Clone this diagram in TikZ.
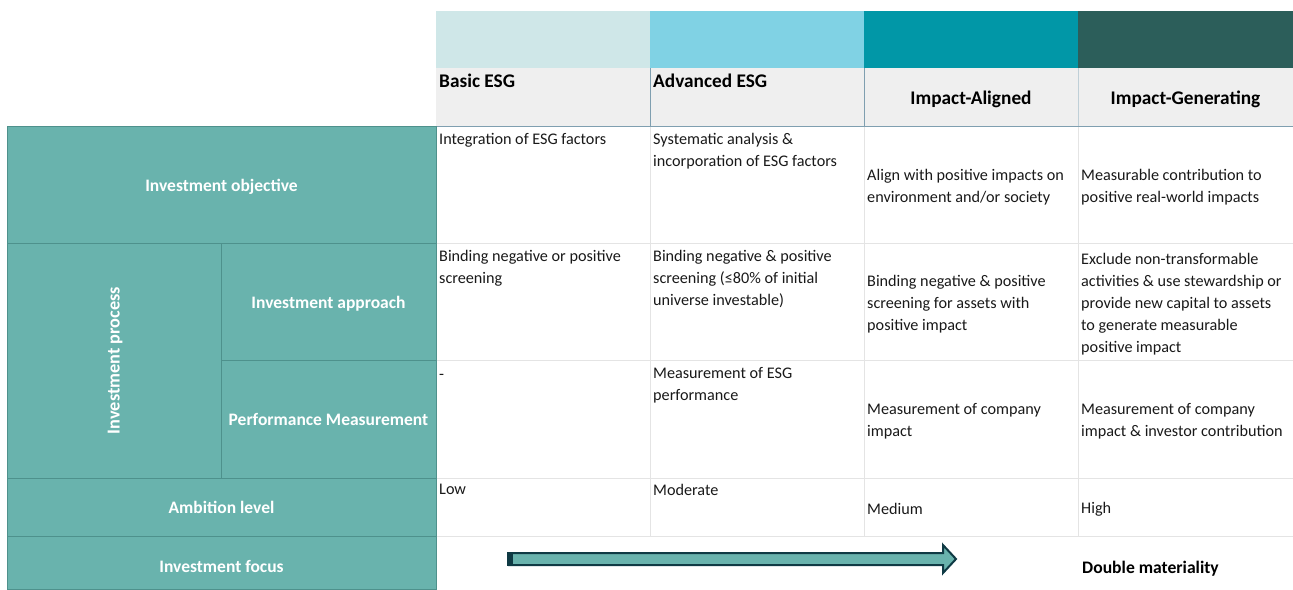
\documentclass[tikz,border=0pt]{standalone}
\usepackage{fontspec}
\setmainfont{Carlito}
\definecolor{bandA}{HTML}{CFE7E8}
\definecolor{bandB}{HTML}{80D2E4}
\definecolor{bandC}{HTML}{0197A7}
\definecolor{bandD}{HTML}{2C5E5A}
\definecolor{headgray}{HTML}{EFEFEF}
\definecolor{headline}{HTML}{7F9FB0}
\definecolor{tealcell}{HTML}{69B3AD}
\definecolor{tealline}{HTML}{4E918C}
\definecolor{gridline}{HTML}{E4E4E4}
\definecolor{arrowline}{HTML}{0F3A44}
\begin{document}
\begin{tikzpicture}[x=1pt,y=-1pt,
    lab/.style={draw=tealline,fill=tealcell,line width=1pt,text=white,inner sep=0pt,outer sep=0pt,
        text height=13pt,text depth=0pt,font=\fontsize{17.5}{20}\selectfont\bfseries},
    txt/.style={align=left,inner sep=0pt,text=black!90,font=\fontsize{16.2}{22}\selectfont},
    hdr/.style={align=left,inner sep=0pt,text=black,font=\fontsize{19.3}{22}\selectfont\bfseries}]
    \useasboundingbox (0,0) rectangle (1293,589);
    % colour band and header
    \fill[bandA] (436,11) rectangle (650,68);
    \fill[bandB] (650,11) rectangle (864,68);
    \fill[bandC] (864,11) rectangle (1078,68);
    \fill[bandD] (1078,11) rectangle (1293,68);
    \fill[headgray] (436,68) rectangle (1293,126);
    \draw[gridline] (436,243) -- (1293,243) (436,360) -- (1293,360) (436,478) -- (1293,478) (436,536) -- (1293,536);
    \draw[gridline] (650,126) -- (650,536) (864,126) -- (864,536) (1078,126) -- (1078,536);
    \draw[headline] (650,68) -- (650,126) (864,68) -- (864,126);
    \draw[headline!50] (1078,68) -- (1078,126);
    \draw[headline] (436,126) -- (1293,126);
    \node[hdr,anchor=north west] (basic) at (439,74) {Basic ESG};
    \node[hdr,anchor=north west] (advanced) at (653,74) {Advanced ESG};
    \node[hdr] (aligned) at (971,99) {Impact-Aligned};
    \node[hdr] (generating) at (1185.5,99) {Impact-Generating};
    % left labels
    \node[lab,minimum width=429pt,minimum height=117pt] (objective) at (221.5,184.5) {Investment objective};
    \node[lab,minimum width=235pt,minimum height=214pt,rotate=90,text depth=2pt,font=\fontsize{18.3}{20}\selectfont\bfseries] (process) at (114,360.5) {Investment process};
    \node[lab,minimum width=215pt,minimum height=117pt] (approach) at (328.5,301.5) {Investment approach};
    \node[lab,minimum width=215pt,minimum height=118pt] (measure) at (328.5,419) {Performance Measurement};
    \node[lab,minimum width=429pt,minimum height=58pt] (ambition) at (221.5,507) {Ambition level};
    \node[lab,minimum width=429pt,minimum height=53pt,text height=20.5pt] (focus) at (221.5,562.5) {Investment focus};
    % row 1
    \node[txt,anchor=north west] (objA) at (439,133) {Integration of ESG factors};
    \node[txt,anchor=north west] (objB) at (653,133) {Systematic analysis \&\\incorporation of ESG factors};
    \node[txt,anchor=west] (objC) at (867,187) {Align with positive impacts on\\environment and/or society};
    \node[txt,anchor=west] (objD) at (1081,187) {Measurable contribution to\\positive real-world impacts};
    % row 2
    \node[txt,anchor=north west] (appA) at (439,250) {Binding negative or positive\\screening};
    \node[txt,anchor=north west] (appB) at (653,250) {Binding negative \& positive\\screening (≤80\% of initial\\universe investable)};
    \node[txt,anchor=west] (appC) at (867,304) {Binding negative \& positive\\screening for assets with\\positive impact};
    \node[txt,anchor=west] (appD) at (1081,304) {Exclude non-transformable\\activities \& use stewardship or\\provide new capital to assets\\to generate measurable\\positive impact};
    % row 3
    \node[txt,anchor=base west] (perfA) at (439,379) {-};
    \node[txt,anchor=north west] (perfB) at (653,367) {Measurement of ESG\\performance};
    \node[txt,anchor=west] (perfC) at (867,421) {Measurement of company\\impact};
    \node[txt,anchor=west] (perfD) at (1081,421) {Measurement of company\\impact \& investor contribution};
    % row 4
    \node[txt,anchor=north west] (ambA) at (439,484) {Low};
    \node[txt,anchor=north west] (ambB) at (653,484) {Moderate};
    \node[txt,anchor=west] (ambC) at (867,509) {Medium};
    \node[txt,anchor=west] (ambD) at (1081,509) {High};
    % row 5
    \draw[arrowline,fill=tealcell,line width=2pt,line join=miter]
        (509,553) -- (943,553) -- (943,545) -- (956,559) -- (943,573) -- (943,565) -- (509,565) -- cycle;
    \fill[arrowline] (507,552) rectangle (513,566);
    \node[hdr,anchor=west,font=\fontsize{17.6}{22}\selectfont\bfseries] (double) at (1082,569) {Double materiality};
\end{tikzpicture}
\end{document}
